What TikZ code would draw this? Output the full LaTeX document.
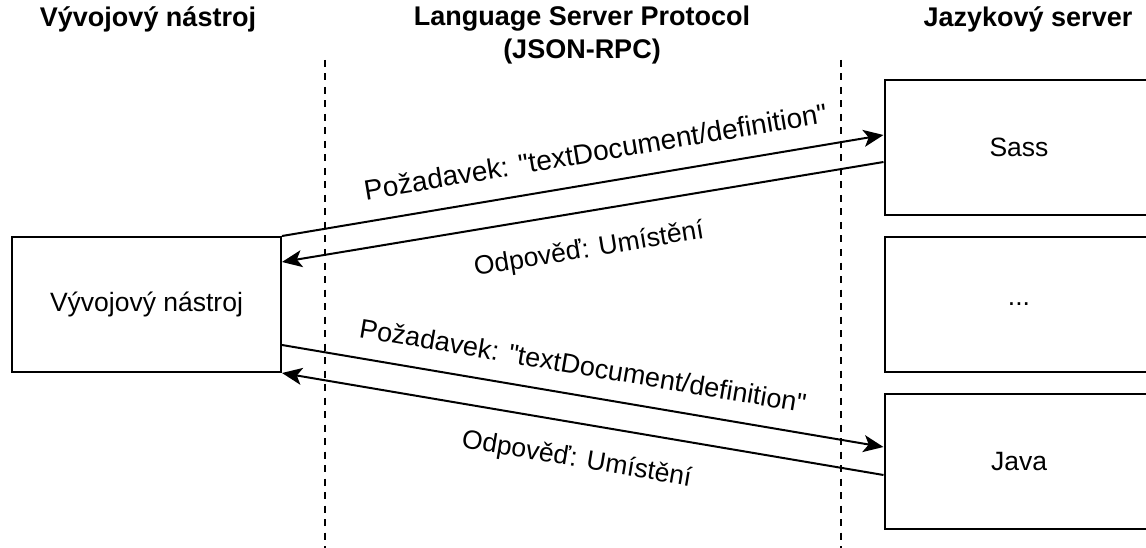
\documentclass[tikz,border=0pt]{standalone}
\usepackage{fontspec}
\setmainfont{Liberation Sans}[Ligatures=TeXOff]
\usetikzlibrary{arrows.meta,calc}
\begin{document}
\begin{tikzpicture}[x=1pt,y=-1pt,
  box/.style={draw, line width=2pt, minimum width=269pt, minimum height=135pt, inner sep=0pt, font=\fontsize{26.5}{32}\selectfont},
  hdr/.style={font=\bfseries\fontsize{27}{33}\selectfont, align=center, inner sep=0pt},
  msg/.style={line width=2pt, -{Stealth[length=20pt,width=17pt,inset=5pt]}},
  lbl/.style={font=\fontsize{26.5}{32}\selectfont, sloped, inner sep=0pt, text height=0.75em, text depth=0.25em},
  biglbl/.style={lbl, font=\fontsize{28}{33}\selectfont},
  midlbl/.style={lbl, font=\fontsize{27}{32}\selectfont},
  sepline/.style={line width=1.7pt, dash pattern=on 7pt off 6.5pt}]
\clip (0,0) rectangle (1146,548);
% boxes
\node[box] (tool) at (146.5,304.5) {Vývojový nástroj};
\node[box] (sass) at (1019,147.5) {Sass};
\node[box] (dots) at (1019,304.5) {...};
\node[box] (java) at (1019,461.5) {Java};
% headers
\node[hdr] (h1) at (148,19) {Vývojový nástroj};
\node[hdr] (h2) at (582,35.5) {Language Server Protocol\\(JSON-RPC)};
\node[hdr] (h3) at (1028,19) {Jazykový server};
% separators
\coordinate (d1t) at (325,60);
\coordinate (d1b) at (325,548);
\coordinate (d2t) at (841,60);
\coordinate (d2b) at (841,548);
\draw[sepline] (d1t) -- (d1b);
\draw[sepline] (d2t) -- (d2b);
% arrow ends
\coordinate (t1) at (tool.north east);
\coordinate (t2) at ($(tool.north east)+(0,26)$);
\coordinate (t3) at ($(tool.east)+(0,40.5)$);
\coordinate (t4) at (tool.south east);
\coordinate (s1) at ($(sass.west)+(0,-12.5)$);
\coordinate (s2) at ($(sass.west)+(0,14.5)$);
\coordinate (j1) at ($(java.west)+(0,-14.5)$);
\coordinate (j2) at ($(java.west)+(0,13.5)$);
% messages
\draw[msg] (t1) -- node[biglbl, pos=0.53, above=18pt] (l1) {Požadavek: "textDocument/definition"} (s1);
\draw[msg] (s2) -- node[lbl, pos=0.5, below=37pt] (l2) {Odpověď: Umístění} (t2);
\draw[msg] (t3) -- node[midlbl, pos=0.492, above=17pt] (l3) {Požadavek: "textDocument/definition"} (j1);
\draw[msg] (j2) -- node[lbl, pos=0.5, below=35pt] (l4) {Odpověď: Umístění} (t4);
\end{tikzpicture}
\end{document}
